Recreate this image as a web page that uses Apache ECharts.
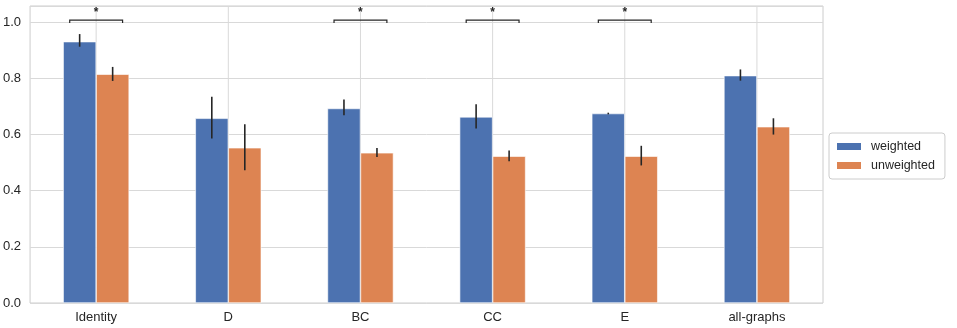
<!DOCTYPE html>
<html>
<head>
<meta charset="utf-8">
<script src="https://cdn.jsdelivr.net/npm/echarts@6/dist/echarts.min.js"></script>
<style>html,body{margin:0;padding:0;background:#fff;}#c{width:957px;height:328px;}</style>
</head>
<body>
<div id="c"></div>
<script>
var categories = ['Identity', 'D', 'BC', 'CC', 'E', 'all-graphs'];
var weighted = [0.931, 0.658, 0.693, 0.663, 0.675, 0.810];
var unweighted = [0.815, 0.553, 0.535, 0.523, 0.523, 0.628];
var weightedLow = [0.913, 0.586, 0.669, 0.622, 0.672, 0.792];
var weightedHigh = [0.958, 0.735, 0.725, 0.708, 0.678, 0.832];
var unweightedLow = [0.791, 0.473, 0.520, 0.505, 0.490, 0.600];
var unweightedHigh = [0.841, 0.637, 0.552, 0.543, 0.560, 0.658];
var significant = [0, 2, 3, 4];
var bracketLevel = 1.008;
var starLevel = 1.044;
var yTicks = [0, 0.2, 0.4, 0.6, 0.8, 1.0];

var BLUE = '#4c72b0', ORANGE = '#dd8452';
var FONT = 'Liberation Sans';
var BAR_W = 33;

function errData(lows, highs) {
  return categories.map(function (c, i) { return [i, lows[i], highs[i]]; });
}
function errRender(offsetSign) {
  return function (params, api) {
    var i = api.value(0);
    var lo = api.coord([i, api.value(1)]);
    var hi = api.coord([i, api.value(2)]);
    var x = lo[0] + offsetSign * BAR_W / 2;
    return {
      type: 'line',
      shape: { x1: x, y1: lo[1], x2: x, y2: hi[1] },
      style: { stroke: '#262626', lineWidth: 1.6 }
    };
  };
}

var chart = echarts.init(document.getElementById('c'), null, { renderer: 'canvas' });
chart.setOption({
  animation: false,
  backgroundColor: '#fff',
  textStyle: { fontFamily: FONT },
  grid: { left: 30, right: 134, top: 6, bottom: 25, show: true, borderColor: '#cccccc', borderWidth: 1 },
  legend: {
    data: ['weighted', 'unweighted'],
    orient: 'vertical',
    left: 829, top: 133,
    padding: [7, 10, 7, 6],
    itemWidth: 26, itemHeight: 9, itemGap: 6,
    icon: 'rect',
    borderColor: '#cccccc', borderWidth: 1, borderRadius: 3,
    textStyle: { fontFamily: FONT, fontSize: 12.5, color: '#262626', padding: [0, 0, 0, 4] }
  },
  xAxis: {
    type: 'category',
    data: categories,
    axisLine: { show: false },
    axisTick: { show: false },
    splitLine: { show: false },
    axisLabel: { fontFamily: FONT, fontSize: 13, color: '#262626', margin: 8 }
  },
  yAxis: {
    type: 'value',
    min: 0, max: 1.058, interval: 0.2,
    axisLine: { show: false },
    axisTick: { show: false },
    splitLine: { lineStyle: { color: '#d9d9d9', width: 1 } },
    axisLabel: {
      fontFamily: FONT, fontSize: 13, color: '#262626', margin: 9, showMaxLabel: false,
      formatter: function (v) { return yTicks.indexOf(Math.round(v * 10) / 10) >= 0 ? v.toFixed(1) : ''; }
    }
  },
  series: [
    {
      type: 'custom', name: 'vgrid', z: 1, silent: true,
      data: categories.map(function (c, i) { return [i]; }),
      renderItem: function (params, api) {
        var p = api.coord([api.value(0), 0]);
        var top = params.coordSys.y;
        return { type: 'line', shape: { x1: p[0], y1: top, x2: p[0], y2: p[1] }, style: { stroke: '#d9d9d9', lineWidth: 1 } };
      }
    },
    { type: 'bar', name: 'weighted', data: weighted, barWidth: BAR_W, barGap: '0%', z: 2,
      itemStyle: { color: BLUE, borderColor: '#ffffff', borderWidth: 0.6 } },
    { type: 'bar', name: 'unweighted', data: unweighted, barWidth: BAR_W, barGap: '0%', z: 2,
      itemStyle: { color: ORANGE, borderColor: '#ffffff', borderWidth: 0.6 } },
    { type: 'custom', name: 'errW', z: 3, data: errData(weightedLow, weightedHigh), renderItem: errRender(-1) },
    { type: 'custom', name: 'errU', z: 3, data: errData(unweightedLow, unweightedHigh), renderItem: errRender(1) },
    {
      type: 'custom', name: 'sig', z: 4,
      data: significant.map(function (i) { return [i, bracketLevel, starLevel]; }),
      renderItem: function (params, api) {
        var p = api.coord([api.value(0), api.value(1)]);
        var s = api.coord([api.value(0), api.value(2)]);
        var half = api.size([1, 0])[0] * 0.2;
        return {
          type: 'group',
          children: [
            { type: 'polyline', shape: { points: [[p[0] - half, p[1] + 3], [p[0] - half, p[1]], [p[0] + half, p[1]], [p[0] + half, p[1] + 3]] },
              style: { stroke: '#262626', lineWidth: 1.2, fill: null } },
            { type: 'text', style: { text: '*', x: p[0], y: s[1] + 3, textAlign: 'center', textVerticalAlign: 'middle',
              font: 'bold 12px ' + FONT, fill: '#262626' } }
          ]
        };
      }
    }
  ]
});
</script>
</body>
</html>
